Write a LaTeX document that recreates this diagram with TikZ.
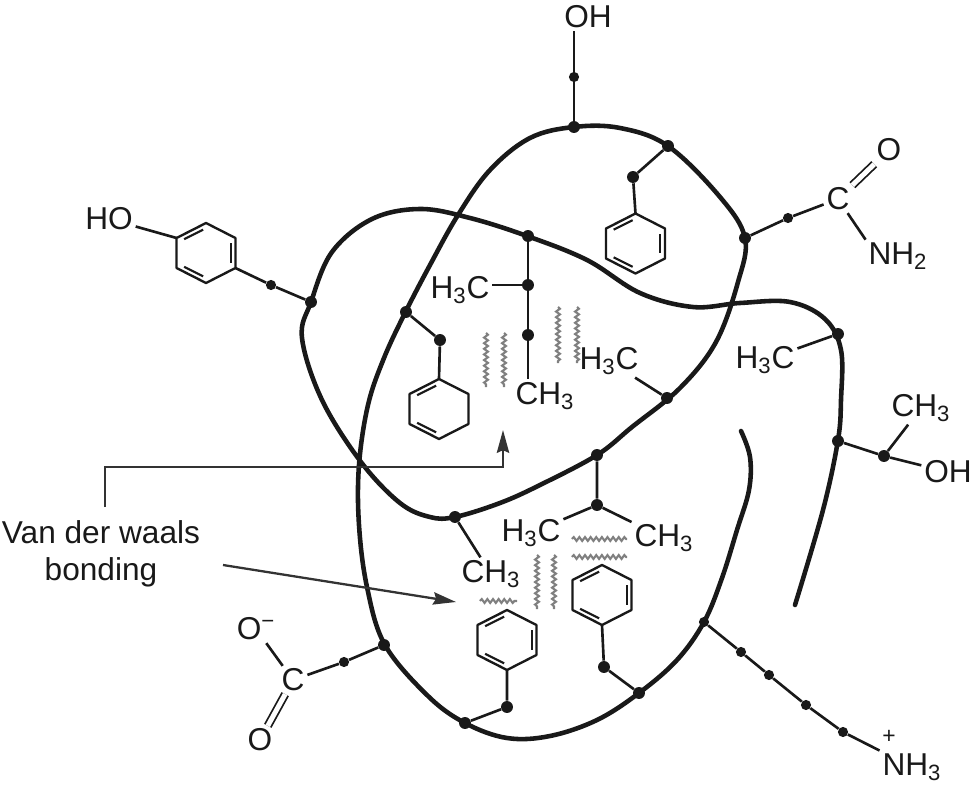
\documentclass[tikz,border=0pt]{standalone}
\usepackage{fontspec}
\setmainfont{Liberation Sans}
\usetikzlibrary{arrows.meta,decorations.pathmorphing}

\tikzset{
	chain line/.style={line width=2.6pt, line join=round, line cap=round, black!90},
	bond/.style={line width=1.5pt, black!90},
	double bond/.style={line width=1pt, double, double distance=2.8pt, black!90},
	pointer/.style={line width=1.3pt, black!80, -{Stealth[length=13pt, width=7pt, inset=1.5pt]}},
	atomdot/.style={circle, fill=black!90, inner sep=0pt, minimum size=6.8pt},
	smalldot/.style={circle, fill=black!90, inner sep=0pt, minimum size=5.8pt},
	atomlabel/.style={inner sep=1.5pt, text=black!90, font=\fontsize{18}{21}\selectfont},
	wavy/.style={black!50, line width=1.2pt, decorate, decoration={snake, segment length=3.2pt, amplitude=1.1pt}},
	pics/benzene/.style={code={
		\foreach \a in {-90,-30,30,90,150,210} {
			\coordinate (-v\a) at (\a:34 and 30);
		}
		\draw[line width=1.35pt, black!90, line join=round] (-90:34 and 30) -- (-30:34 and 30) -- (30:34 and 30) -- (90:34 and 30) -- (150:34 and 30) -- (210:34 and 30) -- cycle;
		\foreach \a in {#1} {
			\draw[line width=1.2pt, black!90] (\a+6:27 and 23.5) -- (\a+54:27 and 23.5);
		}
	}}
}

\begin{document}
\begin{tikzpicture}[x=0.02cm, y=-0.02cm]
	\useasboundingbox (0,0) rectangle (975,788);

	% the chain, one pass from the hook to the free end
	\draw[chain line] plot[smooth, tension=0.6] coordinates {
		(741,431) (750,457) (749,490) (737,530) (722,578) (704,622) (677,660) (639,693) (597,720)
		(550,736) (507,738) (465,723) (428,696) (385,645) (367,587) (359,525) (359,465)
		(368,405) (384,358) (405,313) (430,265) (458,215) (490,170) (530,138) (574,127) (620,128)
		(668,146) (720,197) (745,238) (738,282) (716,342) (680,388) (632,427) (597,455) (540,485) (500,503) (455,517)
		(430,517) (400,503) (361,462) (322,400) (302,338) (311,302) (332,252) (372,219)
		(420,209) (470,218) (527,236) (587,260) (640,293) (693,307) (740,303) (790,302)
		(825,319) (841,350) (841,400) (838,440) (823,510) (795,605)
	};

	% dots on the chain
	\node[atomdot] (top) at (574,127) {};
	\node[atomdot] (phea) at (668,146) {};
	\node[atomdot] (amide) at (745,238) {};
	\node[atomdot] (tyr) at (311,302) {};
	\node[atomdot] (pheb) at (406,312) {};
	\node[atomdot] (leu) at (528,236) {};
	\node[atomdot] (alaa) at (667,398) {};
	\node[atomdot] (alab) at (838,334) {};
	\node[atomdot] (thr) at (838,441) {};
	\node[atomdot] (val) at (597,455) {};
	\node[atomdot] (alac) at (455,517) {};
	\node[atomdot] (acid) at (384,645) {};
	\node[atomdot] (phec) at (465,723) {};
	\node[atomdot] (phed) at (639,693) {};
	\node[smalldot] (lys) at (704,622) {};

	% dots on the side groups
	\node[smalldot] (topb) at (574,77) {};
	\node[atomdot] (pheab) at (633,177) {};
	\node[smalldot] (amideb) at (788,218) {};
	\node[smalldot] (tyrb) at (271,285) {};
	\node[atomdot] (phebb) at (440,340) {};
	\node[atomdot] (leub) at (528,285) {};
	\node[atomdot] (leuc) at (528,335) {};
	\node[atomdot] (thrb) at (884,456) {};
	\node[atomdot] (valb) at (597,505) {};
	\node[smalldot] (acidb) at (344,662) {};
	\node[atomdot] (phecb) at (507,707) {};
	\node[atomdot] (phedb) at (604,667) {};
	\node[smalldot] (lysb) at (741,652) {};
	\node[smalldot] (lysc) at (769,675) {};
	\node[smalldot] (lysd) at (806,705) {};
	\node[smalldot] (lyse) at (843,732) {};

	% labels
	\node[atomlabel] (ohtop) at (588,17) {OH};
	\node[atomlabel] (ho) at (109,219) {HO};
	\node[atomlabel] (cam) at (838,199) {C};
	\node[atomlabel] (oam) at (889,150) {O};
	\node[atomlabel] (nhtwo) at (898,256) {NH\textsubscript{2}};
	\node[atomlabel] (hca) at (460,290) {H\textsubscript{3}C};
	\node[atomlabel] (hcb) at (609,361) {H\textsubscript{3}C};
	\node[atomlabel] (hcc) at (765,360) {H\textsubscript{3}C};
	\node[atomlabel] (cha) at (545,396) {CH\textsubscript{3}};
	\node[atomlabel] (chb) at (921,408) {CH\textsubscript{3}};
	\node[atomlabel] (ohthr) at (948,472) {OH};
	\node[atomlabel] (hcd) at (531,533) {H\textsubscript{3}C};
	\node[atomlabel] (chc) at (664,538) {CH\textsubscript{3}};
	\node[atomlabel] (chd) at (491,574) {CH\textsubscript{3}};
	\node[atomlabel] (oac) at (256,629) {O\textsuperscript{−}};
	\node[atomlabel] (cac) at (293,680) {C};
	\node[atomlabel] (odb) at (260,740) {O};
	\node[atomlabel] (nhthree) at (912,767) {NH\textsubscript{3}};
	\node[atomlabel, font=\fontsize{13}{15}\selectfont] (plus) at (889,737) {+};
	\node[atomlabel, align=center] (vdw) at (101,554) {Van der waals\\[0pt]bonding};

	% rings
	\pic (ringa) at (635.5,243.5) {benzene={210,-30,90}};
	\pic (ringb) at (439,409) {benzene={210,90}};
	\pic (ringc) at (507,640) {benzene={210,-30,90}};
	\pic (ringd) at (602,595) {benzene={210,-30,90}};
	\pic (ringe) at (206,253) {benzene={210,-30,90}};

	% side groups
	\draw[bond] (top) -- (topb) -- (topb |- ohtop.south);
	\draw[bond] (phea) -- (pheab) -- (ringa-v-90);
	\draw[bond] (amide) -- (amideb) -- (cam);
	\draw[double bond] (cam) -- (oam);
	\draw[bond] (cam) -- (nhtwo.north west);
	\draw[bond] (tyr) -- (tyrb) -- (ringe-v30);
	\draw[bond] (ringe-v210) -- (ho);
	\draw[bond] (pheb) -- (phebb) -- (ringb-v-90);
	\draw[bond] (leu) -- (leub) -- (leuc) -- (leuc |- cha.north);
	\draw[bond] (leub) -- (hca.east |- leub);
	\draw[bond] (alaa) -- (hcb);
	\draw[bond] (alab) -- (hcc);
	\draw[bond] (thr) -- (thrb) -- (chb);
	\draw[bond] (thrb) -- (ohthr);
	\draw[bond] (val) -- (valb) -- (hcd);
	\draw[bond] (valb) -- (chc);
	\draw[bond] (alac) -- (chd);
	\draw[bond] (acid) -- (acidb) -- (cac);
	\draw[bond] (cac) -- (oac);
	\draw[double bond] (cac) -- (odb);
	\draw[bond] (phec) -- (phecb) -- (ringc-v90);
	\draw[bond] (phed) -- (phedb) -- (ringd-v90);
	\draw[bond] (lys) -- (lysb) -- (lysc) -- (lysd) -- (lyse) -- (nhthree);

	% van der waals contacts
	\foreach \x in {486,504} {\draw[wavy] (\x,333) -- (\x,387);}
	\foreach \x in {558,577} {\draw[wavy] (\x,307) -- (\x,363);}
	\foreach \x in {537,554} {\draw[wavy] (\x,555) -- (\x,609);}
	\foreach \y in {539,557} {\draw[wavy] (572,\y) -- (627,\y);}
	\draw[wavy] (480,601) -- (517,601);

	% pointers from the label
	\coordinate (pointa) at (105,507);
	\coordinate (pointb) at (503,430);
	\coordinate (pointc) at (223,565);
	\coordinate (pointd) at (456,602);
	\draw[pointer] (pointa) |- (503,467) -- (pointb);
	\draw[pointer] (pointc) -- (pointd);
\end{tikzpicture}
\end{document}
